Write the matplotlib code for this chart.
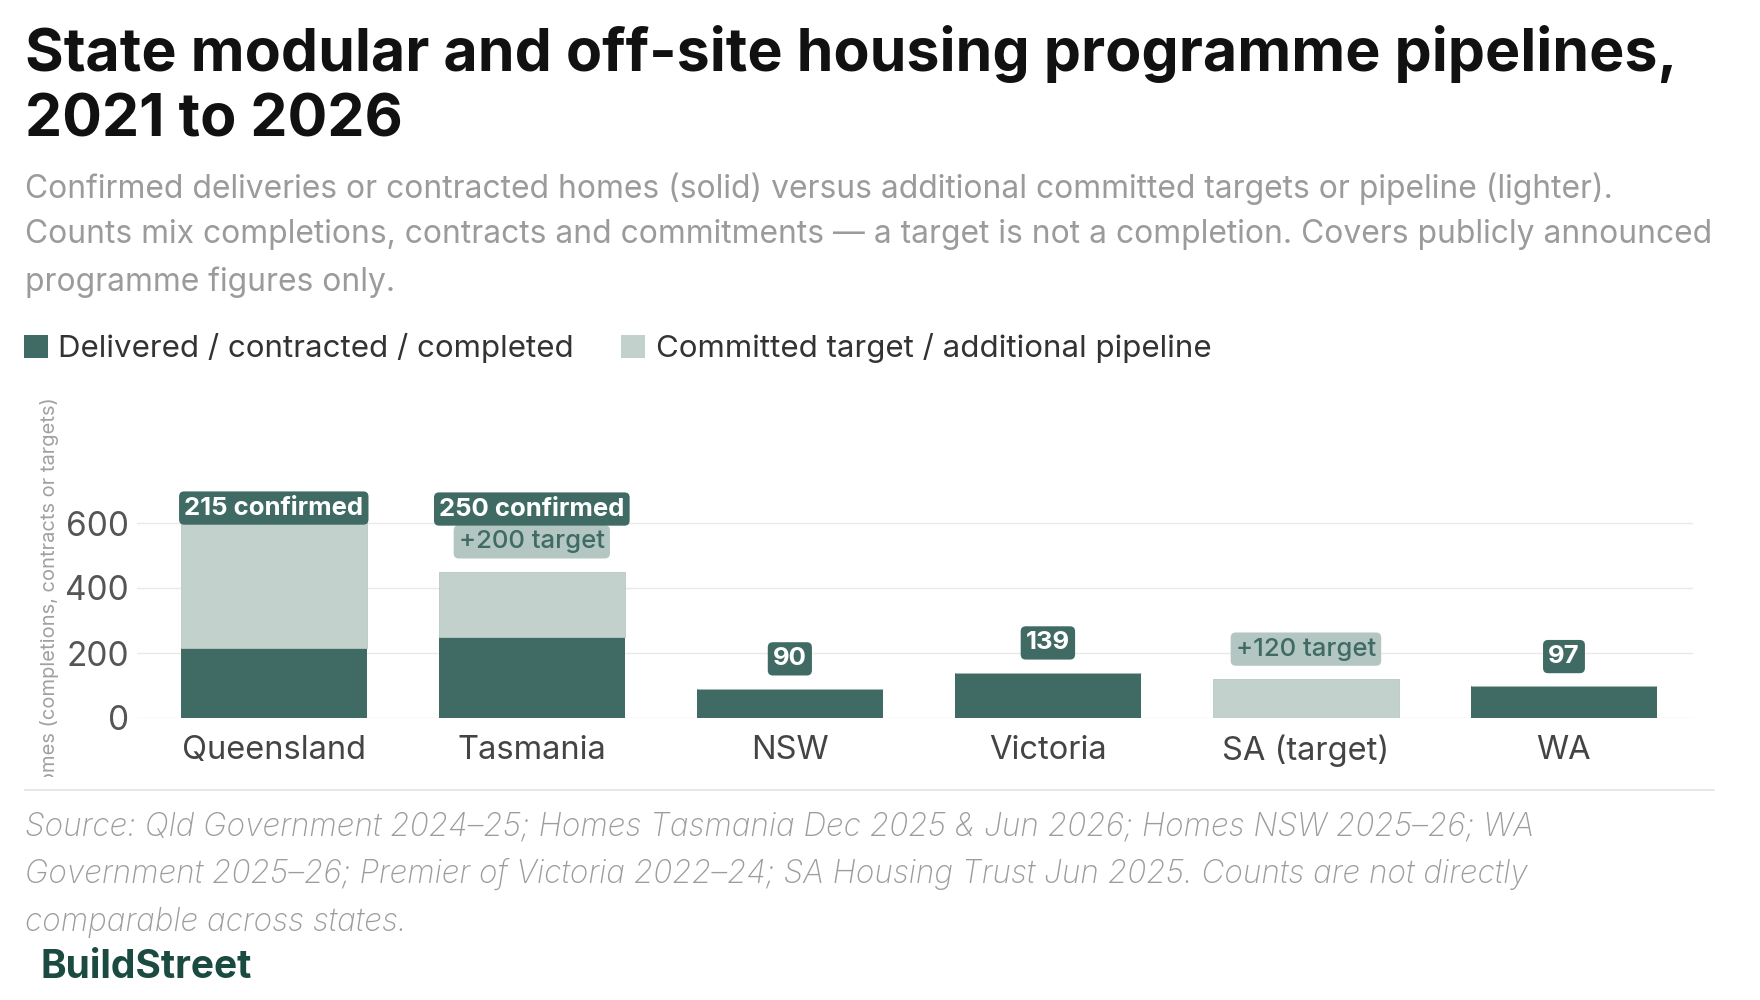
#!/usr/bin/env python3
"""State modular / off-site housing pipelines: confirmed vs committed target bars."""

import matplotlib
matplotlib.use("Agg")
import matplotlib.pyplot as plt
from matplotlib.patches import Patch
from matplotlib.transforms import Bbox

plt.rcParams["font.family"] = ["Inter", "DejaVu Sans"]

STATES = ["Queensland", "Tasmania", "NSW", "Victoria", "SA (target)", "WA"]
CONFIRMED = [215, 250, 90, 139, 0, 97]
TARGET = [385, 200, 0, 0, 120, 0]
CONFIRMED_LABELS = ["215 confirmed", "250 confirmed", "90", "139", None, "97"]
TARGET_LABELS = [None, "+200 target", None, None, "+120 target", None]
YTICKS = [0, 200, 400, 600]

TITLE_LINES = ["State modular and off-site housing programme pipelines,", "2021 to 2026"]
SUBTITLE_LINES = [
    "Confirmed deliveries or contracted homes (solid) versus additional committed targets or pipeline (lighter).",
    "Counts mix completions, contracts and commitments \u2014 a target is not a completion. Covers publicly announced",
    "programme figures only.",
]
SOURCE_LINES = [
    "Source: Qld Government 2024\u201325; Homes Tasmania Dec 2025 & Jun 2026; Homes NSW 2025\u201326; WA",
    "Government 2025\u201326; Premier of Victoria 2022\u201324; SA Housing Trust Jun 2025. Counts are not directly",
    "comparable across states.",
]

DARK = "#3f6b64"
LIGHT = "#c3d1cd"
LIGHT_BOX = "#b4c6c1"
BRAND = "#1b4a40"

W, H = 1760, 1000
fig = plt.figure(figsize=(W / 100, H / 100), dpi=100)


def fx(px):
    return px / W


def fy(px):
    return 1 - px / H


# title / subtitle
for line, ypx in zip(TITLE_LINES, [54, 121]):
    fig.text(fx(25), fy(ypx), line, fontsize=42.5, fontweight="bold", color="#111111",
             va="center", ha="left")
for line, ypx in zip(SUBTITLE_LINES, [189, 235, 282]):
    fig.text(fx(25), fy(ypx), line, fontsize=22.9, color="#9b9b9b", va="center", ha="left")

# legend
handles = [Patch(facecolor=DARK, edgecolor="none"), Patch(facecolor=LIGHT, edgecolor="none")]
fig.legend(handles, ["Delivered / contracted / completed", "Committed target / additional pipeline"],
           loc="center left", bbox_to_anchor=(fx(-4), fy(348)), ncol=2, frameon=False,
           fontsize=22.5, handlelength=0.75, handleheight=0.75, handletextpad=0.35,
           columnspacing=1.5, labelcolor="#333333")

# axes
ax = fig.add_axes([fx(137), fy(718), fx(1693) - fx(137), 227.5 / H])
x = range(len(STATES))
ax.bar(x, CONFIRMED, width=0.72, color=DARK, zorder=2)
ax.bar(x, TARGET, bottom=CONFIRMED, width=0.72, color=LIGHT, edgecolor="#b8c8c3",
       linewidth=0.6, zorder=2)

ax.set_xlim(-0.53, 5.5)
ax.set_ylim(0, 700)
ax.set_yticks(YTICKS)
ax.set_xticks(list(x))
ax.set_xticklabels(STATES)
ax.tick_params(axis="both", length=0, colors="#444444")
ax.tick_params(axis="x", pad=12, labelsize=23.5)
ax.tick_params(axis="y", pad=6, labelsize=24, labelcolor="#555555")
ax.grid(axis="y", color="#e9e9e9", linewidth=1, zorder=0)
for s in ax.spines.values():
    s.set_visible(False)

# labels above bars
LABEL_GAP = 92   # data units from bar top to label centre
LABEL_CAP = 646
STACK = 101
for i in range(len(STATES)):
    top = CONFIRMED[i] + TARGET[i]
    y = min(top + LABEL_GAP, LABEL_CAP)
    if TARGET_LABELS[i]:
        ax.text(i, y, TARGET_LABELS[i], ha="center", va="center", fontsize=18.5,
                color=DARK, fontweight="medium",
                bbox=dict(boxstyle="round,pad=0.2,rounding_size=0.2", fc=LIGHT_BOX, ec="none"))
        y += STACK
    if CONFIRMED_LABELS[i]:
        ax.text(i, min(y, LABEL_CAP), CONFIRMED_LABELS[i], ha="center", va="center",
                fontsize=18.5, color="white", fontweight="bold",
                bbox=dict(boxstyle="round,pad=0.2,rounding_size=0.2", fc=DARK, ec="none"))

# rotated y label, clipped at the bottom like the source
ylab = fig.text(fx(50), fy(650), "Number of homes (completions, contracts or targets)",
                rotation=90, ha="center", va="center", fontsize=14.5, color="#a0a0a0")
ylab.set_clip_on(True)
ylab.set_clip_box(Bbox.from_extents(0, H - 777, 200, H))

# separator and footer
fig.add_artist(plt.Line2D([fx(25), fx(1714)], [fy(790), fy(790)], color="#e3e3e3", lw=1.2))
for line, ypx in zip(SOURCE_LINES, [827, 874, 922]):
    fig.text(fx(25), fy(ypx), line, fontsize=22.7, style="italic", fontweight="light",
             color="#9c9c9c", va="center", ha="left")
fig.text(fx(40), fy(967), "BuildStreet", fontsize=28, fontweight="bold", color=BRAND,
         va="center", ha="left")

fig.savefig("out.png", dpi=100, facecolor="white")
